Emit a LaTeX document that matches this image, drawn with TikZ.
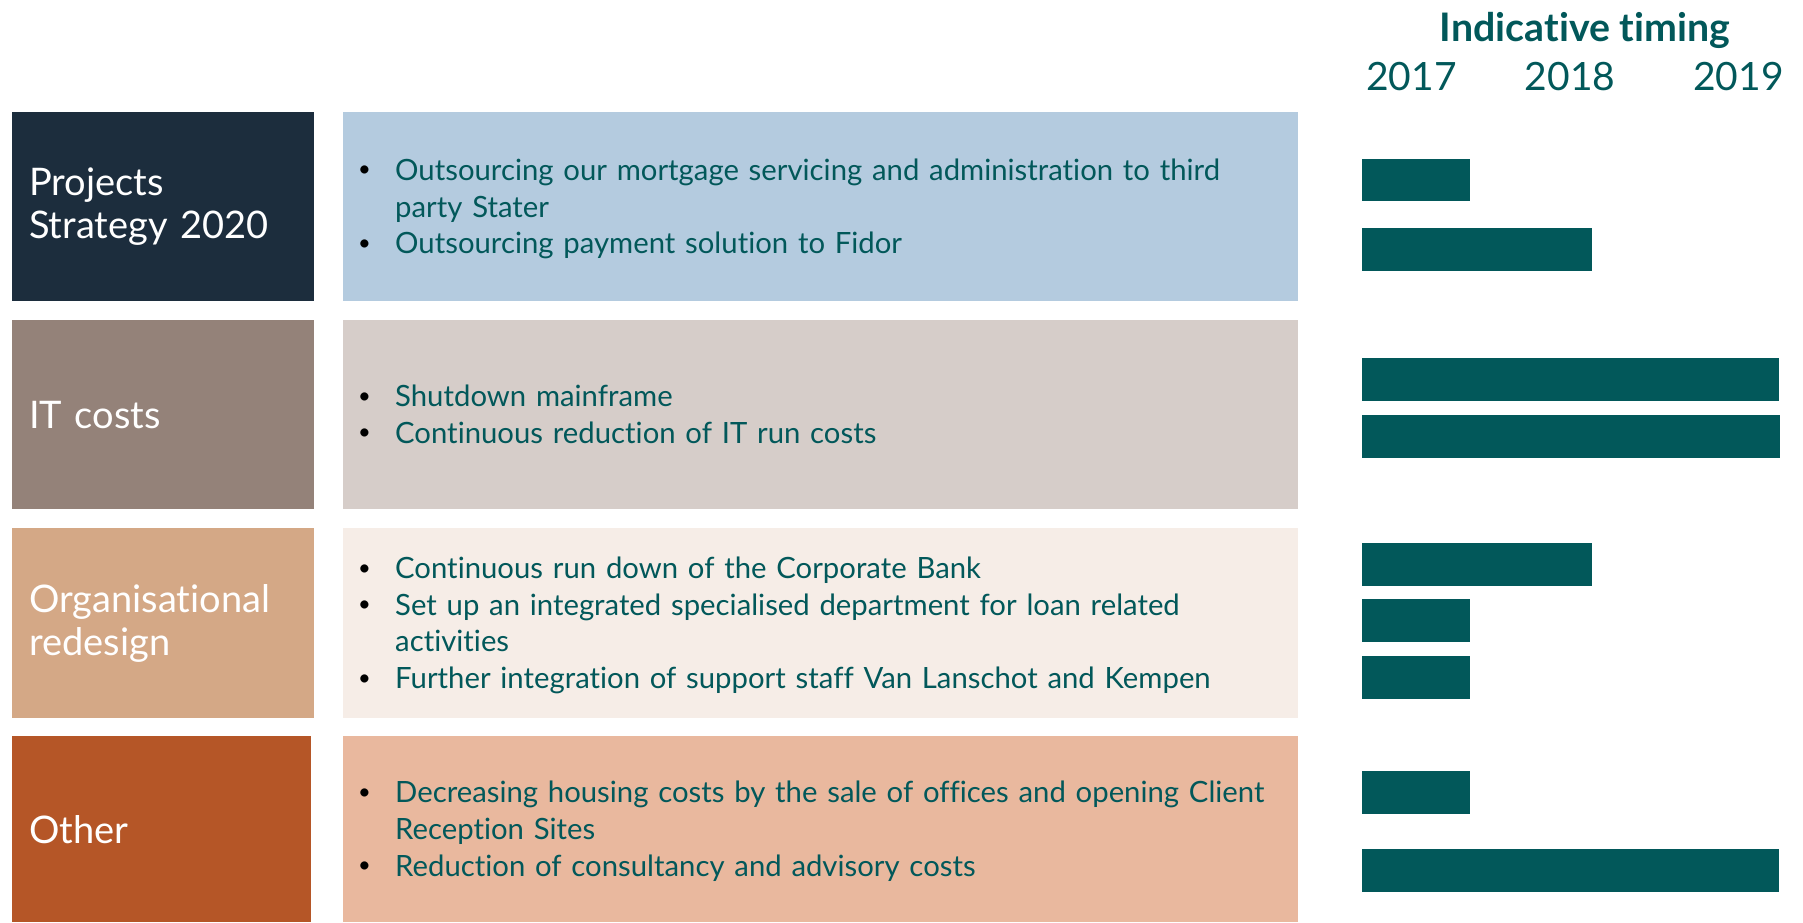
\documentclass[tikz,border=0pt]{standalone}
\usepackage{fontspec}
\setmainfont{Lato}[Ligatures=NoCommon]
\definecolor{navy}{HTML}{1C2D3D}
\definecolor{taupe}{HTML}{948279}
\definecolor{sand}{HTML}{D4A886}
\definecolor{rust}{HTML}{B55627}
\definecolor{skyfill}{HTML}{B4CBDF}
\definecolor{taupefill}{HTML}{D6CDC9}
\definecolor{sandfill}{HTML}{F6EDE7}
\definecolor{rustfill}{HTML}{E9B89E}
\definecolor{vlteal}{HTML}{02585A}
\newcommand{\bul}{\raisebox{3.5pt}{\fontsize{22}{22}\selectfont\textcolor{black}{\textbullet}}}
\newcommand{\bitems}[1]{\raisebox{-3pt}[\height][\depth]{\begin{tabular}{@{}p{37pt}@{}l@{}}#1\end{tabular}}}
\tikzset{
  catbox/.style={anchor=north west, minimum height=189pt, inner xsep=17.5pt, inner ysep=0pt,
    text width=267.5pt, align=left, text=white, font=\fontsize{38}{43}\selectfont},
  itembox/.style={anchor=north west, minimum height=189pt, inner xsep=15pt, inner ysep=0pt,
    text width=925pt, align=left, text=vlteal, font=\fontsize{29.3}{36.7}\selectfont},
  year/.style={anchor=base, text=vlteal, font=\fontsize{39}{47}\selectfont},
  bar/.style={fill=vlteal}
}
\begin{document}
\begin{tikzpicture}[x=1pt,y=-1pt]
\useasboundingbox (0,0) rectangle (1803,922);

% heading
\node(Timing)[anchor=base, text=vlteal, font=\fontsize{39.3}{46}\selectfont\bfseries] at (1585,41) {Indicative timing};
\node(Y17)[year] at (1411.5,90) {2017};
\node(Y18)[year] at (1570,90) {2018};
\node(Y19)[year] at (1738.5,90) {2019};

% categories
\node(Proj)[catbox, fill=navy] at (11.5,112) {Projects\\Strategy 2020};
\node(IT)[catbox, fill=taupe] at (11.5,320) {IT costs};
\node(Org)[catbox, fill=sand, minimum height=190pt] at (11.5,528) {Organisational\\redesign};
\node(Oth)[catbox, fill=rust, minimum height=186pt, text width=264pt] at (11.5,736) {Other};

% measures
\node(ProjList)[itembox, fill=skyfill] at (343,112) {\bitems{%
  \bul & Outsourcing our mortgage servicing and administration to third\\
       & party Stater\\
  \bul & Outsourcing payment solution to Fidor}};
\node(ITList)[itembox, fill=taupefill] at (343,320) {\bitems{%
  \bul & Shutdown mainframe\\
  \bul & Continuous reduction of IT run costs}};
\node(OrgList)[itembox, fill=sandfill, minimum height=190pt] at (343,528) {\bitems{%
  \bul & Continuous run down of the Corporate Bank\\
  \bul & Set up an integrated specialised department for loan related\\
       & activities\\
  \bul & Further integration of support staff Van Lanschot and Kempen}};
\node(OthList)[itembox, fill=rustfill, minimum height=186pt] at (343,736) {\bitems{%
  \bul & Decreasing housing costs by the sale of offices and opening Client\\
       & Reception Sites\\
  \bul & Reduction of consultancy and advisory costs}};

% timing bars
\fill[bar] (1362,159) rectangle (1470,201);
\fill[bar] (1362,228) rectangle (1592,271);
\fill[bar] (1362,358) rectangle (1779,401);
\fill[bar] (1362,415) rectangle (1780,458);
\fill[bar] (1362,543) rectangle (1592,586);
\fill[bar] (1362,599) rectangle (1470,642);
\fill[bar] (1362,656) rectangle (1470,699);
\fill[bar] (1362,771) rectangle (1470,814);
\fill[bar] (1362,849) rectangle (1779,892);
\end{tikzpicture}
\end{document}
